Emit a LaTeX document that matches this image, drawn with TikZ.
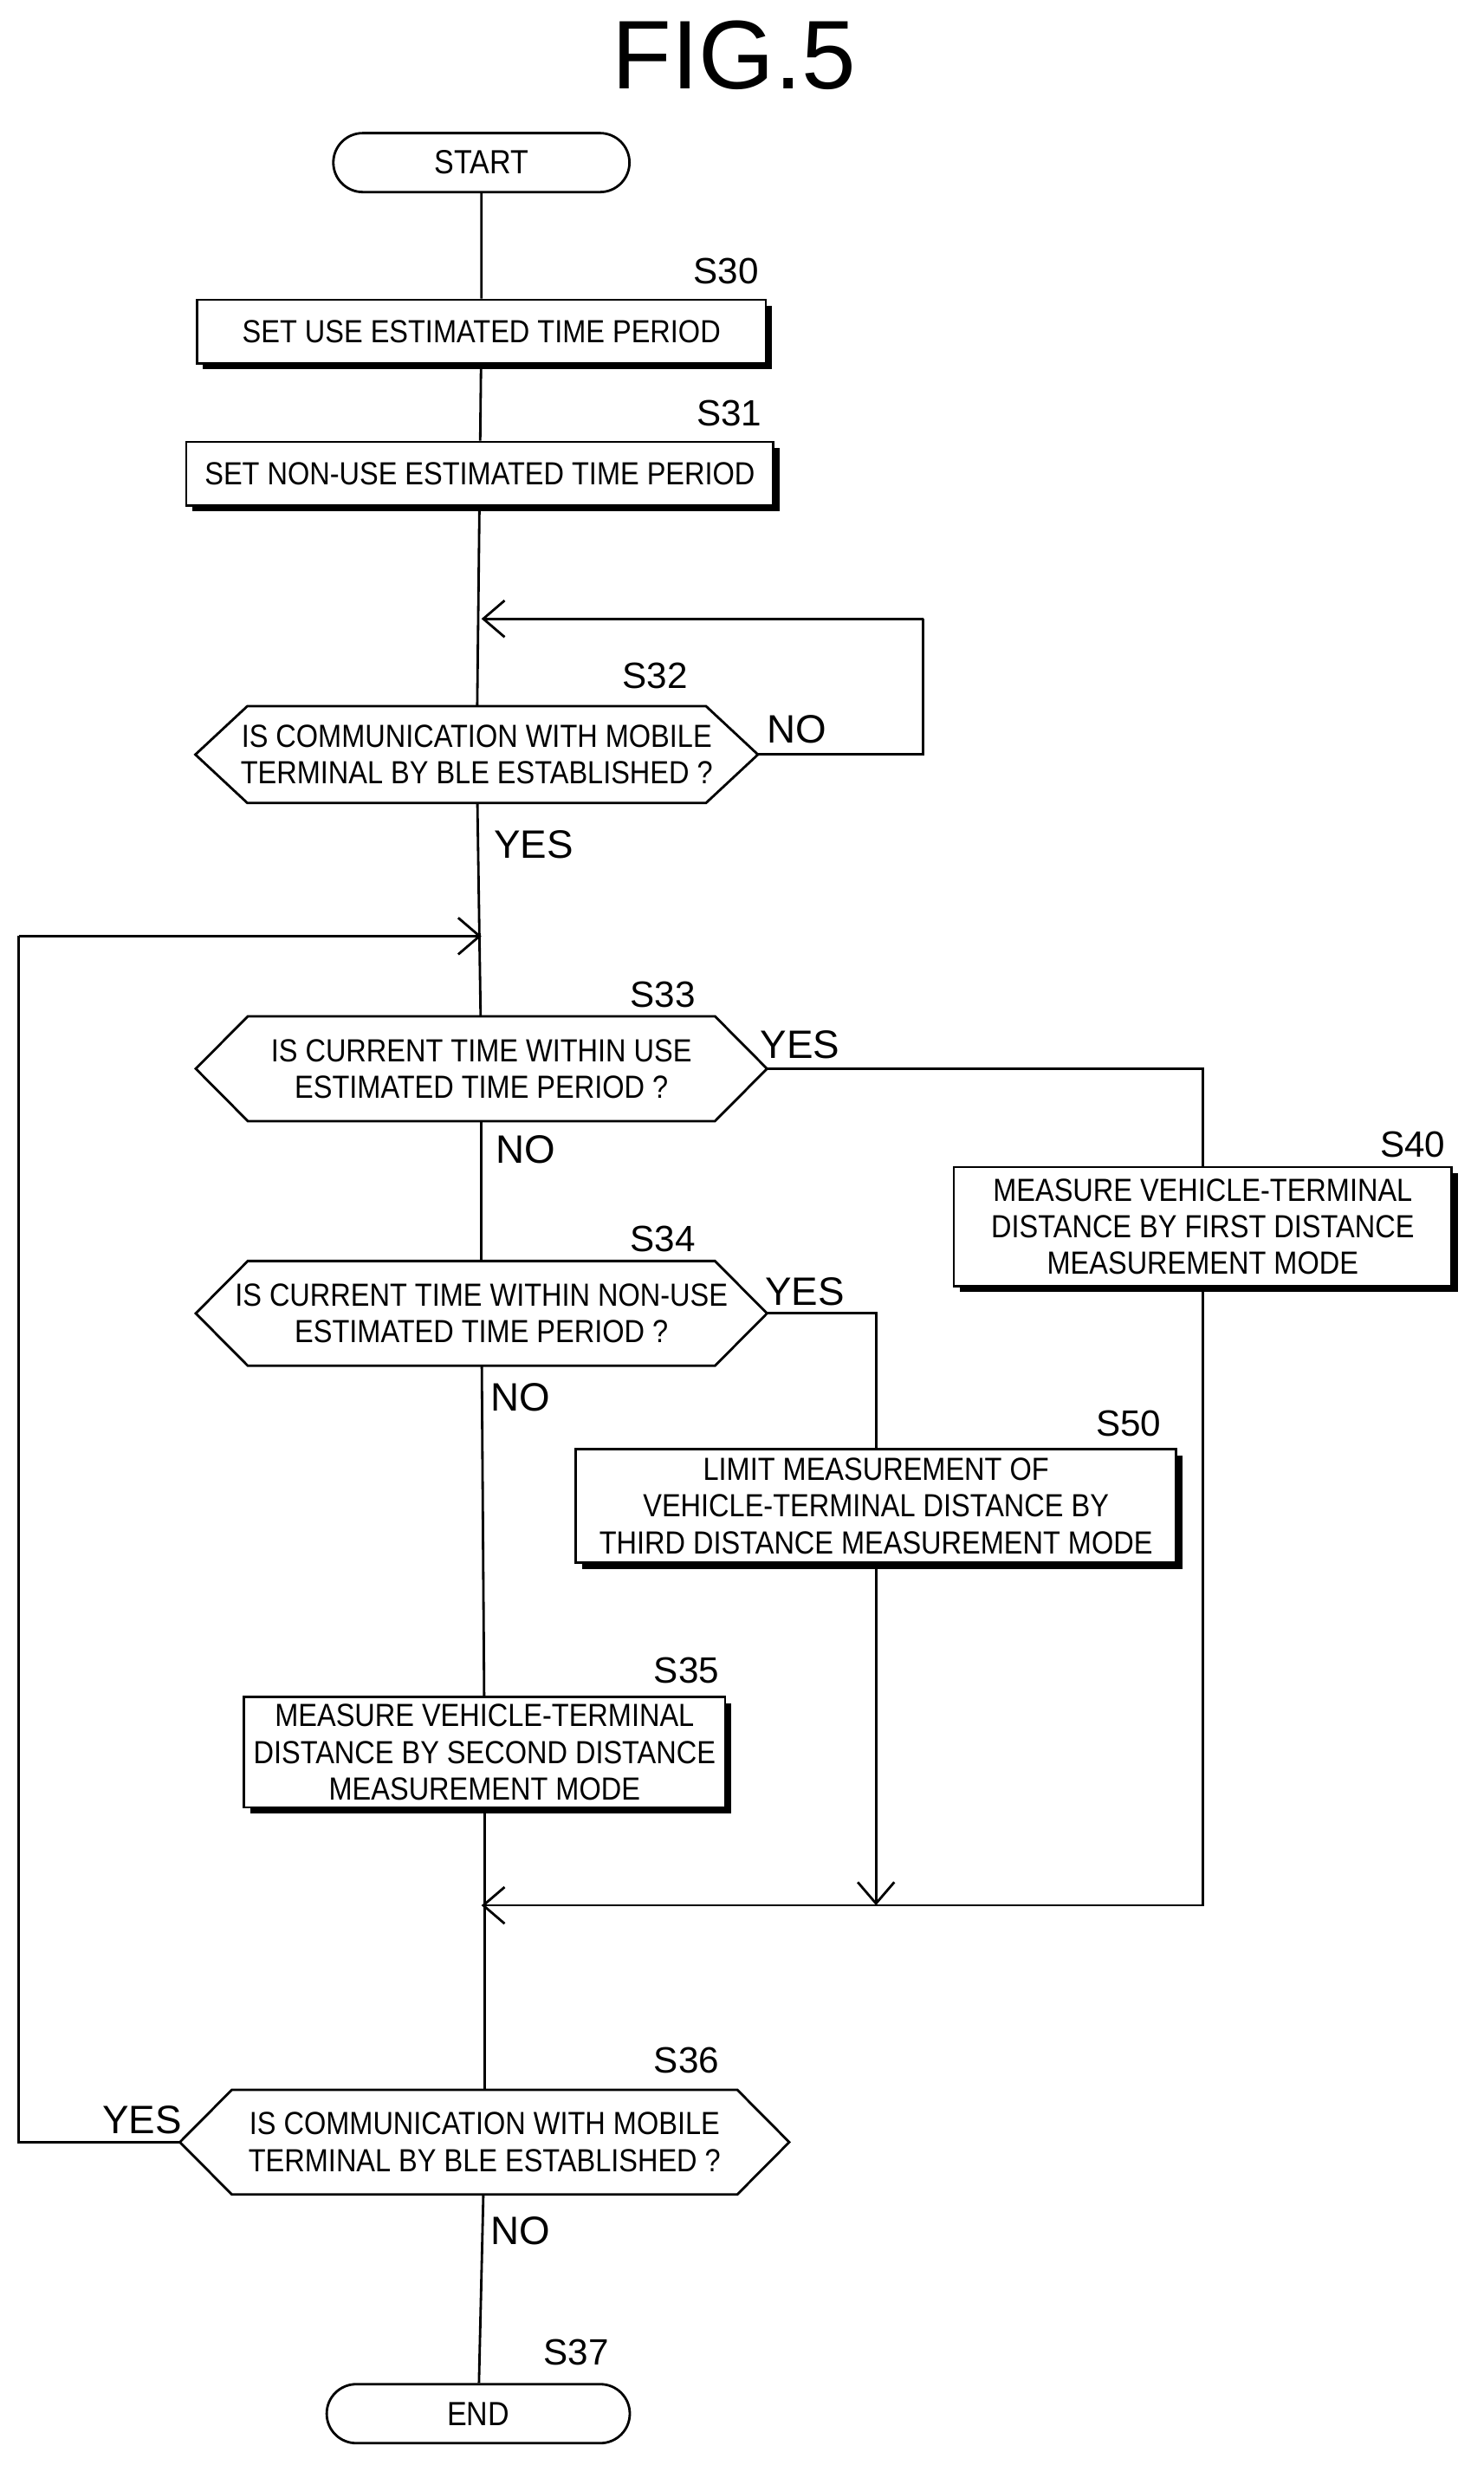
\documentclass[tikz,border=0pt]{standalone}
\usepackage{fontspec}
\setmainfont{Liberation Sans}
\newfontfamily\boxfont{Liberation Sans}[FakeStretch=0.88]
\usetikzlibrary{shapes.misc, positioning, arrows.meta, shadows}

\begin{document}
\begin{tikzpicture}[x=0.01821cm, y=-0.01821cm, thick,
    proc/.style = {draw, fill=white, align=center, inner sep=2pt, font=\boxfont\fontsize{10.5}{12}\selectfont,
                   drop shadow={shadow xshift=2pt, shadow yshift=-2pt, fill=black, opacity=1}},
    dec/.style = {align=center, inner sep=0pt, font=\boxfont\fontsize{10.5}{12}\selectfont},
    term/.style = {draw, rounded rectangle, minimum width=3.65cm, minimum height=0.68cm, font=\boxfont\fontsize{11}{12}\selectfont},
    steplbl/.style = {font=\fontsize{12}{12}\selectfont},
    ans/.style = {font=\fontsize{13}{13}\selectfont},
    mid/.style = {-{Straight Barb[length=7pt,width=12pt]}}]
                    \useasboundingbox (0,0) rectangle (940,1578);
                    \node[font=\fontsize{32}{32}\selectfont] (title) at (465,35) {FIG.5};
                    
                    % Nodes
                    \node[term] (start) at (305,103) {START};
                    \node[proc, minimum width=6.56cm, minimum height=0.73cm] (s30) at (305,210) {SET USE ESTIMATED TIME PERIOD};
                    \node[proc, minimum width=6.77cm, minimum height=0.73cm] (s31) at (304,300) {SET NON-USE ESTIMATED TIME PERIOD};
                    \node[dec, minimum width=6.46cm, minimum height=1.09cm] (s32) at (302,478) {IS COMMUNICATION WITH MOBILE\\TERMINAL BY BLE ESTABLISHED ?};
                    \node[dec, minimum width=6.56cm, minimum height=1.18cm] (s33) at (305,677) {IS CURRENT TIME WITHIN USE\\ESTIMATED TIME PERIOD ?};
                    \node[dec, minimum width=6.56cm, minimum height=1.18cm] (s34) at (305,832) {IS CURRENT TIME WITHIN NON-USE\\ESTIMATED TIME PERIOD ?};
                    \node[proc, minimum width=5.74cm, minimum height=1.37cm] (s40) at (762,777) {MEASURE VEHICLE-TERMINAL\\DISTANCE BY FIRST DISTANCE\\MEASUREMENT MODE};
                    \node[proc, minimum width=6.92cm, minimum height=1.31cm] (s50) at (555,954) {LIMIT MEASUREMENT OF\\VEHICLE-TERMINAL DISTANCE BY\\THIRD DISTANCE MEASUREMENT MODE};
                    \node[proc, minimum width=5.55cm, minimum height=1.27cm] (s35) at (307,1110) {MEASURE VEHICLE-TERMINAL\\DISTANCE BY SECOND DISTANCE\\MEASUREMENT MODE};
                    \node[dec, minimum width=7.0cm, minimum height=1.18cm] (s36) at (307,1357) {IS COMMUNICATION WITH MOBILE\\TERMINAL BY BLE ESTABLISHED ?};
                    \node[term, minimum width=3.73cm] (end) at (303,1529) {END};
                    
                    % Hexagon outlines
                    \foreach \n in {s32,s33,s34,s36}
                        \draw ([xshift=0.6cm]\n.north west) -- ([xshift=-0.6cm]\n.north east) -- (\n.east)
                            -- ([xshift=-0.6cm]\n.south east) -- ([xshift=0.6cm]\n.south west) -- (\n.west) -- cycle;
                    
                    % Step labels
                    \node[steplbl] at (460,172) {S30};
                    \node[steplbl] at (462,262) {S31};
                    \node[steplbl] at (415,428) {S32};
                    \node[steplbl] at (420,630) {S33};
                    \node[steplbl] at (420,785) {S34};
                    \node[steplbl] at (895,725) {S40};
                    \node[steplbl] at (715,902) {S50};
                    \node[steplbl] at (435,1058) {S35};
                    \node[steplbl] at (435,1305) {S36};
                    \node[steplbl] at (365,1490) {S37};
                    
                    % Answers
                    \node[ans] at (505,462) {NO};
                    \node[ans] at (338,535) {YES};
                    \node[ans] at (507,662) {YES};
                    \node[ans] at (333,728) {NO};
                    \node[ans] at (510,818) {YES};
                    \node[ans] at (330,885) {NO};
                    \node[ans] at (90,1343) {YES};
                    \node[ans] at (330,1413) {NO};
                    
                    % Junction points
                    \coordinate (j32) at (305,392);
                    \coordinate (j33) at (305,593);
                    \coordinate (j35) at (305,1207);
                    \coordinate (j50) at (555,1207);
                    
                    % Lines
                    \draw (start) -- (s30);
                    \draw (s30) -- (s31);
                    \draw (s31) -- (s32);
                    \draw (s32.east) -- (585,478) -- (585,392);
                    \draw[mid] (585,392) -- (j32);
                    \draw (s32) -- (s33);
                    \draw (s33) -- (s34);
                    \draw (s34) -- (s35);
                    \draw (s35) -- (s36);
                    \draw (s36) -- (end);
                    \draw (s33.east) -| (s40.north);
                    \draw (s34.east) -| (s50.north);
                    \draw[mid] (s50.south) -- (j50);
                    \draw (s40.south) |- (j50);
                    \draw[mid] (j50) -- (j35);
                    \draw (s36.west) -- (12,1357) -- (12,593);
                    \draw[mid] (12,593) -- (j33);
\end{tikzpicture}
\end{document}
